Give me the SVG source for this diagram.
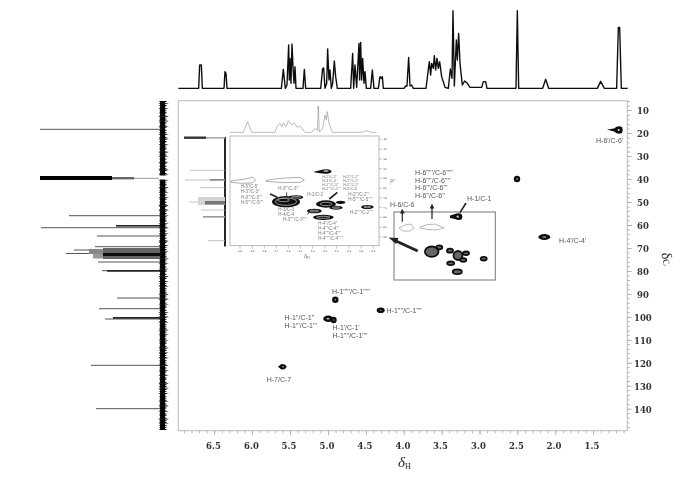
<svg xmlns="http://www.w3.org/2000/svg" width="700" height="481" viewBox="0 0 700 481">
<style>
.lb{font:7px "Liberation Sans",Arial,sans-serif;fill:#555}
.il{font:13.5px "Liberation Sans",Arial,sans-serif;fill:#777}
.is{font:11px "Liberation Sans",Arial,sans-serif;fill:#777}
.ax{font:bold 8.5px "DejaVu Serif",serif;fill:#333}
.it{font:bold 7px "DejaVu Serif",serif;fill:#666}
.tk{stroke:#aaa;fill:none}
.sp{fill:none;stroke:#111;stroke-linejoin:round}
.c{fill:#111;stroke:none}
.h{fill:#ddd;stroke:none}
.ol{fill:#fff;stroke:#999;stroke-width:2.4}
.ar{stroke:#222;fill:none}
.sm{filter:url(#b)}
</style>
<defs>
<filter id="b" x="-5%" y="-5%" width="110%" height="110%"><feGaussianBlur stdDeviation="0.4"/></filter>
<marker id="ah" markerWidth="4" markerHeight="4" refX="3" refY="2" orient="auto"><path d="M0 0L4 2L0 4Z" fill="#222"/></marker>
</defs>
<rect width="700" height="481" fill="#fff"/>
<g id="frame" class="sm">
<rect x="178.3" y="100.7" width="449" height="330" fill="#fff" stroke="#bbb"/>
<path class="tk" d="M318 106V109"/>
<line class="tk" x1="184" y1="432" x2="627" y2="432" stroke-width="2.6" stroke-dasharray=".8 6.78"/>
<line class="tk" x1="214.3" y1="433" x2="595" y2="433" stroke-width="4.6" stroke-dasharray=".8 37.1"/>
<line class="tk" x1="628.6" y1="101.1" x2="628.6" y2="430" stroke-width="2.6" stroke-dasharray=".8 3.79"/>
<line class="tk" x1="629.6" y1="110.3" x2="629.6" y2="410" stroke-width="4.6" stroke-dasharray=".8 22.16"/>
<g text-anchor="middle">
<text class="ax" x="213.5" y="449">6.5</text><text class="ax" x="251.5" y="449">6.0</text><text class="ax" x="289" y="449">5.5</text><text class="ax" x="327" y="449">5.0</text><text class="ax" x="365" y="449">4.5</text><text class="ax" x="403" y="449">4.0</text><text class="ax" x="440.5" y="449">3.5</text><text class="ax" x="478.5" y="449">3.0</text><text class="ax" x="516.5" y="449">2.5</text><text class="ax" x="554" y="449">2.0</text><text class="ax" x="592" y="449">1.5</text>
</g>
<g>
<text class="ax" x="637" y="114">10</text><text class="ax" x="637" y="137">20</text><text class="ax" x="637" y="160">30</text><text class="ax" x="637" y="183">40</text><text class="ax" x="637" y="206">50</text><text class="ax" x="637" y="229">60</text><text class="ax" x="637" y="252">70</text><text class="ax" x="637" y="275">80</text><text class="ax" x="637" y="298">90</text><text class="ax" x="634" y="321">100</text><text class="ax" x="634" y="344">110</text><text class="ax" x="634" y="367">120</text><text class="ax" x="634" y="390">130</text><text class="ax" x="634" y="413">140</text>
</g>
<text x="398" y="467" font-family="Liberation Serif, serif" font-style="italic" font-size="15" fill="#222">δ<tspan font-size="8" font-style="normal" dy="2">H</tspan></text>
<text transform="translate(661 254) rotate(70)" font-family="Liberation Serif, serif" font-style="italic" font-size="14" fill="#222">δ<tspan font-size="9" font-style="normal" dy="1">C</tspan></text>
</g>

<g id="proton-spectrum" class="sm" transform="translate(170 0) scale(.33333)">
<path class="sp" stroke-width="4.2" d="M25 265H86L89 195H94L97 265H162L165 215L168 220L171 265H334L340 208L346 265L351 255L356 135L358 240L360 175L363 250L366 132L369 200L372 250L375 200L378 265H399L403 208L407 265H452L458 206L461 204L465 265L470 250L473 147L477 240L480 210L484 265L488 250L493 183L497 230L502 265H542L548 160L551 265L555 195L560 262L567 130L569 240L572 127L575 240L578 175L582 250L585 215L589 265H602L607 210L612 265H625L630 230L634 235L637 230L640 265H702L707 258L711 258L716 172L720 258L725 255L730 265H768L778 185L782 225L785 190L790 205L793 167L797 210L801 175L805 205L809 185L815 230L825 262L835 265L841 207L846 235L849 32L853 258L859 120L862 180L866 100L870 190L877 255L884 243L892 250L900 262H935L940 245L947 245L951 265H1038L1042 32L1046 265H1118L1127 238L1136 265H1282L1292 244L1303 265H1340L1345 82H1349L1354 265H1373"/>
</g>

<g id="carbon-spectrum" class="sm">
<path stroke="#000" fill="none" d="M162.6 101V430" stroke-width="5"/>
<path stroke="#000" fill="none" d="M163 101V430" stroke-width="7" stroke-dasharray="1 1.3 .7 1 1.2 2"/>
<path stroke="#222" fill="none" d="M163.5 103V428" stroke-width="9.5" stroke-dasharray=".6 5 .5 7 .7 4"/>
<rect x="156" y="175.5" width="12" height="4" fill="#fff"/>
<path stroke="#444" fill="none" stroke-width=".9" d="M40 129.3H160M69 215.7H160M41 227.7H160M97 236H160M95 246.7H160M74 250H160M66 253.5H160M98 262H160M102 270.7H160M117 298H160M99 308.7H160M105 319H160M91 365.3H160M96 408.7H160"/>
<rect x="40" y="176" width="72" height="4" fill="#000"/>
<rect x="112" y="177" width="22" height="2.4" fill="#666"/>
<rect x="134" y="177.8" width="25" height="1" fill="#999"/>
<rect x="116" y="225" width="44" height="1.6" fill="#222"/>
<rect x="89" y="249" width="71" height="5" fill="#888"/>
<rect x="93" y="254" width="67" height="4.5" fill="#999"/>
<rect x="103" y="248" width="57" height="11" fill="#666"/>
<rect x="103" y="253" width="57" height="3" fill="#111"/>
<rect x="107" y="270" width="53" height="1.7" fill="#222"/>
<rect x="113" y="317" width="47" height="1.7" fill="#222"/>
</g>

<g id="inset" class="sm">
<path stroke="#111" fill="none" stroke-width="1.8" d="M225 137V246.5"/>
<path stroke="#aaa" fill="none" stroke-width=".7" d="M190 170.3H225M185 180H225M200 187.7H225M189 202H225M201 210H225M208 240.7H225"/>
<rect x="184" y="136.5" width="22" height="2.4" fill="#333"/>
<rect x="206" y="137" width="19" height="1.6" fill="#aaa"/>
<rect x="210" y="179" width="15" height="1.6" fill="#888"/>
<rect x="198" y="197" width="27" height="8" fill="#d4d4d4"/>
<rect x="205" y="201" width="20" height="3.5" fill="#777"/>
<rect x="203" y="216" width="22" height="1.6" fill="#999"/>
<g transform="translate(220 100) scale(.33333)">
<rect x="30" y="108" width="447" height="329" fill="#fff" stroke="#aaa" stroke-width="2.4"/>
<path fill="none" stroke="#999" stroke-width="2" d="M30 97H70L83 65L95 97H165L172 78L180 70L186 80L190 68L198 80L205 62L215 75L222 68L232 82L240 78L255 97H275L285 85L292 92L295 20L298 96L308 85L315 45L319 60L322 35L327 70L337 97H425L440 92L455 97H470"/>
<path class="tk" stroke-width="2" d="M477 118H486M477 148H486M477 177H486M477 206H486M477 235H486M477 265H486M477 294H486M477 323H486M477 352H486M477 382H486M477 411H486M60 437V446M97 437V446M133 437V446M169 437V446M205 437V446M241 437V446M278 437V446M315 437V446M350 437V446M387 437V446M423 437V446M460 437V446"/>
<g text-anchor="middle">
<text class="it" x="60" y="457">4.0</text><text class="it" x="97" y="457">3.9</text><text class="it" x="133" y="457">3.8</text><text class="it" x="169" y="457">3.7</text><text class="it" x="205" y="457">3.6</text><text class="it" x="241" y="457">3.5</text><text class="it" x="278" y="457">3.4</text><text class="it" x="315" y="457">3.3</text><text class="it" x="350" y="457">3.2</text><text class="it" x="387" y="457">3.1</text><text class="it" x="423" y="457">3.0</text><text class="it" x="460" y="457">2.9</text>
</g>
<text class="it" x="490" y="121">40</text><text class="it" x="490" y="151">45</text><text class="it" x="490" y="180">50</text><text class="it" x="490" y="209">55</text><text class="it" x="490" y="238">60</text><text class="it" x="490" y="268">65</text><text class="it" x="490" y="297">70</text><text class="it" x="490" y="326">75</text><text class="it" x="490" y="355">80</text><text class="it" x="490" y="385">85</text><text class="it" x="490" y="414">90</text>
<text transform="translate(510 238) rotate(80)" font-family="Liberation Serif, serif" font-size="19" fill="#666">δ<tspan font-size="11" dy="3">C</tspan></text>
<text x="252" y="475" font-family="Liberation Serif, serif" font-size="19" fill="#666">δ<tspan font-size="11" dy="3">H</tspan></text>
<path class="ol" d="M33 243Q55 240 75 237L98 232L107 241L95 249Q65 252 33 247Z"/>
<path class="ol" d="M138 241Q175 234 240 232L253 240L240 247Q190 250 138 244Z"/>
<path class="c" d="M282 215L300 211Q322 204 334 212Q338 218 322 221Q305 222 282 217Z"/>
<ellipse class="h" cx="318" cy="213" rx="8" ry="2"/>
<g class="c">
<ellipse cx="198" cy="305" rx="42" ry="17"/><ellipse cx="228" cy="292" rx="22" ry="6.5"/><ellipse cx="283" cy="333" rx="22" ry="7"/><ellipse cx="318" cy="312" rx="30" ry="11"/><ellipse cx="348" cy="323" rx="20" ry="6"/><ellipse cx="362" cy="307" rx="14" ry="5"/><ellipse cx="310" cy="352" rx="31" ry="8"/><ellipse cx="442" cy="321" rx="19" ry="6"/>
</g>
<g fill="none" stroke="#aaa" stroke-width="2.5">
<ellipse cx="198" cy="305" rx="32" ry="11"/><ellipse cx="190" cy="300" rx="18" ry="5"/><ellipse cx="228" cy="292" rx="14" ry="2.5"/><ellipse cx="283" cy="333" rx="13" ry="2.5"/><ellipse cx="318" cy="312" rx="18" ry="5"/><ellipse cx="348" cy="323" rx="11" ry="2"/><ellipse cx="310" cy="352" rx="20" ry="3"/><ellipse cx="442" cy="321" rx="10" ry="2"/>
</g>
<g>
<text class="il" x="62" y="265">H-5'/C-5'</text><text class="il" x="62" y="280">H-3''/C-3''</text><text class="il" x="62" y="296">H-3'''/C-3'''</text><text class="il" x="62" y="312">H-5''''/C-5''''</text>
<text class="il" x="175" y="270">H-3'''/C-3'''</text>
<text class="il" x="175" y="332">H-3/C-3</text><text class="il" x="175" y="347">H-4/C-4</text><text class="il" x="188" y="362">H-3'''''/C-3'''''</text>
<text class="il" x="262" y="289">H-2/C-2</text>
<text class="is" x="307" y="233">H-2'/C-2'</text><text class="is" x="307" y="245">H-3'/C-3'</text><text class="is" x="307" y="258">H-5'''/C-5'''</text><text class="is" x="307" y="270">H-5''''/C-5''''</text>
<text class="is" x="370" y="233">H-2''/C-2''</text><text class="is" x="370" y="245">H-5''/C-5''</text><text class="is" x="370" y="258">H-5''/C-5''</text><text class="is" x="370" y="270">H-6'/C-6'</text>
<text class="il" x="385" y="289">H-2'''/C-2'''</text><text class="il" x="385" y="303">H-5'''''/C-5'''''</text>
<text class="il" x="390" y="341">H-2''''/C-2''''</text>
<text class="il" x="295" y="375">H-4''/C-4''</text><text class="il" x="295" y="390">H-4'''/C-4'''</text><text class="il" x="295" y="405">H-4''''/C-4''''</text><text class="il" x="295" y="419">H-4'''''/C-4'''''</text>
</g>
<path fill="none" stroke="#222" stroke-width="5" d="M150 282L172 292M352 277L328 297"/>
<path fill="none" stroke="#444" stroke-width="3" d="M200 277V289M262 344L270 332"/>
</g>
</g>

<g id="peak-h6p" class="sm">
<path class="c" d="M607 129.5L614 128.5Q618 125 622 127Q623.500 130 622 133Q618 135 614 131.5Z"/><circle class="h" cx="618.7" cy="130" r="1"/>
<text class="lb" x="596" y="143" font-size="6">H-6'/C-6'</text>
</g>
<g id="peak-h4p" class="sm">
<ellipse class="c" cx="544.3" cy="237" rx="6" ry="3"/><ellipse class="h" cx="544.3" cy="237" rx="2" ry=".6"/>
<text class="lb" x="559" y="243">H-4'/C-4'</text>
</g>
<g id="peak-dmso" class="sm">
<ellipse class="c" cx="517" cy="179" rx="3.2" ry="3.2"/><circle class="h" cx="517" cy="179" r=".7"/>
</g>
<g id="peak-h1" class="sm">
<path class="c" d="M450 215.5L455 214Q458 212.7 461.5 214Q463.2 216.7 461.5 219.5Q458 220.7 455 219L450 218Z"/><circle class="h" cx="457.7" cy="216.7" r="1.1"/>
<text class="lb" x="467" y="200.5">H-1/C-1</text>
</g>
<g id="region-h6" class="sm">
<rect x="394" y="212" width="101.3" height="68" fill="none" stroke="#777"/>
<path class="ol" style="stroke-width:.7" d="M399 228Q405 224 411 224L414 228L410 231L403 231Z"/>
<path class="ol" style="stroke-width:.7" d="M420 227Q426 224 435 224L444 228L436 230Q428 230 420 228Z"/>
<g fill="#666" stroke="#111" stroke-width="1.8">
<ellipse cx="431.7" cy="251.7" rx="6.8" ry="5.2"/><ellipse cx="439.3" cy="247.3" rx="3" ry="2"/><ellipse cx="450" cy="250.7" rx="3" ry="2"/><ellipse cx="458" cy="255.5" rx="4.5" ry="4.5"/><ellipse cx="466" cy="253.3" rx="3" ry="1.8"/><ellipse cx="463.3" cy="260" rx="3" ry="1.8"/><ellipse cx="450.7" cy="263.3" rx="3.5" ry="1.8"/><ellipse cx="457.3" cy="271.7" rx="4.5" ry="2.4"/><ellipse cx="483.7" cy="258.7" rx="3" ry="1.8"/>
</g>
<text class="lb" x="390" y="207">H-6/C-6</text>
<text class="lb" x="415" y="175">H-6'''''/C-6'''''</text><text class="lb" x="415" y="182.7">H-6''''/C-6''''</text><text class="lb" x="415" y="190.4">H-6'''/C-6'''</text><text class="lb" x="415" y="198">H-6''/C-6''</text>
</g>
<g id="peak-h1a" class="sm"><circle class="c" cx="335.3" cy="299.7" r="3.2"/><circle class="h" cx="335.3" cy="299.7" r=".6"/><text class="lb" x="332" y="294">H-1'''''/C-1'''''</text></g>
<g id="peak-h1b" class="sm"><ellipse class="c" cx="380.7" cy="310.3" rx="4" ry="2.8"/><circle class="h" cx="380.7" cy="310.3" r=".6"/><text class="lb" x="386.5" y="313">H-1''''/C-1''''</text></g>
<g id="peak-h1c" class="sm"><ellipse class="c" cx="328.3" cy="318.7" rx="5" ry="3.2"/><ellipse class="h" cx="328" cy="318.7" rx="1.5" ry=".7"/><text class="lb" x="284.5" y="320">H-1''/C-1''</text><text class="lb" x="284.5" y="327.5">H-1'''/C-1'''</text></g>
<g id="peak-h1d" class="sm"><ellipse class="c" cx="333.7" cy="320" rx="3" ry="3.3"/><circle class="h" cx="333.7" cy="320" r=".6"/><text class="lb" x="332.5" y="330">H-1'/C-1'</text><text class="lb" x="332.5" y="337.5">H-1''''/C-1''''</text></g>
<g id="peak-h7" class="sm"><path class="c" d="M278 366.7L281 364.3Q285 363 286.7 366.7Q285 370.4 281 369.2Z"/><circle class="h" cx="283" cy="366.7" r=".7"/><text class="lb" x="266.7" y="381.5">H-7/C-7</text></g>

<g id="connectors" class="sm">
<path class="ar" stroke-width="3" d="M417.7 251L396 241"/>
<path d="M398.5 238L388.5 237.5L396 244Z" fill="#222"/>
<path class="ar" stroke-width="1.2" marker-end="url(#ah)" d="M402.3 221.7V210"/>
<path class="ar" stroke-width="1.2" marker-end="url(#ah)" d="M432 219V205"/>
<path class="ar" stroke-width="1.6" d="M460 212.7L466 203"/>
</g>
</svg>
